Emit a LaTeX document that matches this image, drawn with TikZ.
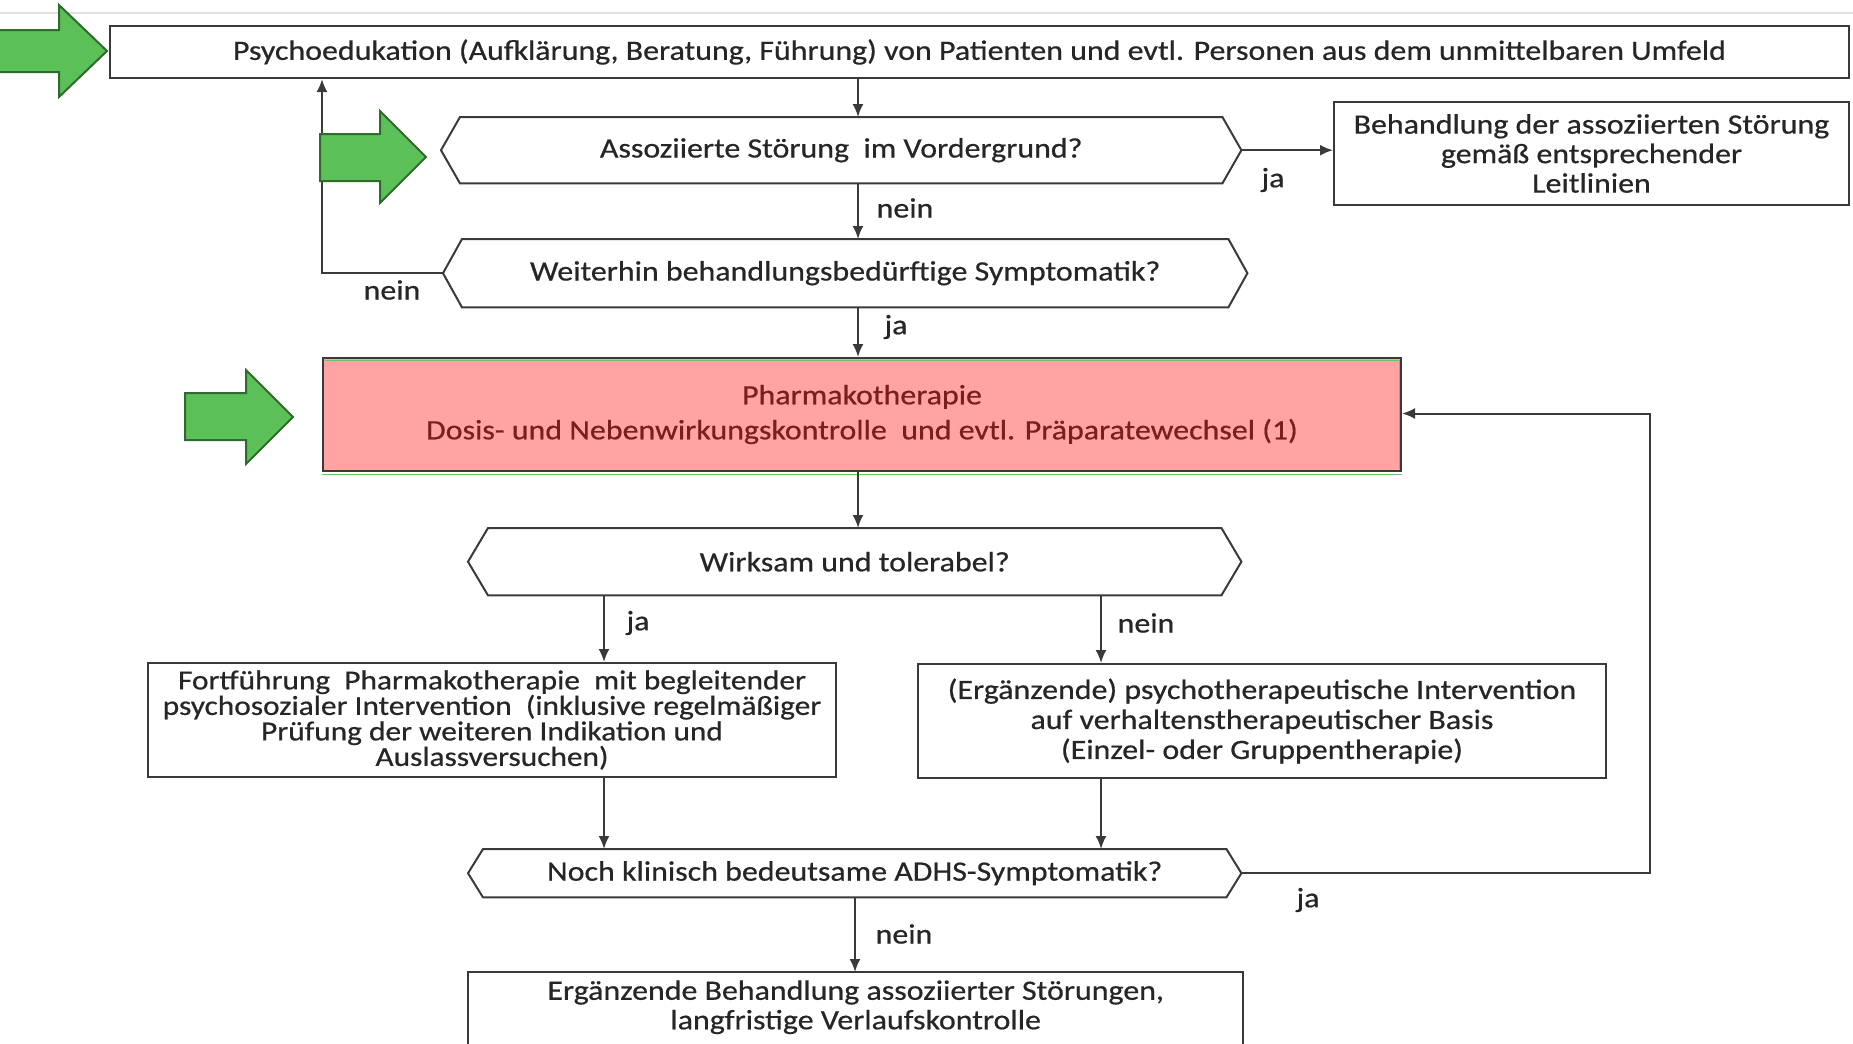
\documentclass[tikz,border=0pt]{standalone}
\usepackage{fontspec}
\setmainfont[FakeStretch=1.14,FakeBold=0.6]{Carlito}
\usetikzlibrary{arrows.meta,calc}
\definecolor{ln}{HTML}{3A3A3A}
\definecolor{txt}{HTML}{262626}
\definecolor{pinkfill}{HTML}{FFA3A3}
\definecolor{dred}{HTML}{7D1E1E}
\definecolor{gfill}{HTML}{5CC059}
\definecolor{gline}{HTML}{2F6B2C}
\definecolor{faint}{HTML}{E2E2E2}
\definecolor{gthin}{HTML}{6CC26A}
\newcommand{\hexpath}[2]{\draw[ln, line width=2pt, line join=miter] ([xshift=#2]#1.north west) -- ([xshift=-#2]#1.north east) -- (#1.east) -- ([xshift=-#2]#1.south east) -- ([xshift=#2]#1.south west) -- (#1.west) -- cycle;}
\begin{document}
\begin{tikzpicture}[x=1pt,y=-1pt,
  font=\fontsize{28}{30}\selectfont,
  box/.style={draw=ln, line width=2pt, anchor=north west, inner sep=0pt, align=center, text=txt},
  hexnode/.style={anchor=north west, inner sep=0pt, align=center, text=txt},
  lbl/.style={inner sep=0pt, text=txt},
  arr/.style={ln, line width=2pt, -{Latex[length=13pt,width=11pt]}},
  garrow/.style={fill=gfill, draw=gline, line width=2pt, line join=miter}]
\useasboundingbox (0,0) rectangle (1853,1044);
\clip (0,0) rectangle (1853,1044);
% faint top rule
\draw[faint, line width=2pt] (0,13) -- (1853,13);

% boxes
\node[box, minimum width=1739pt, minimum height=52pt] (top) at (109,25)
  {Psychoedukation (Aufklärung, Beratung, Führung) von Patienten und evtl. Personen aus dem unmittelbaren Umfeld};
\node[hexnode, minimum width=800pt, minimum height=66pt] (hexA) at (441,117)
  {\raisebox{-3pt}{Assoziierte Störung\ \ im Vordergrund?}};
\hexpath{hexA}{19pt}
\node[box, minimum width=515pt, minimum height=103pt, font=\fontsize{28}{29.5}\selectfont] (beh) at (1333,101)
  {Behandlung der assoziierten Störung\\gemäß entsprechender\\Leitlinien};
\node[hexnode, minimum width=804pt, minimum height=68pt] (hexW) at (443,239)
  {Weiterhin behandlungsbedürftige Symptomatik?};
\hexpath{hexW}{19pt}
\node[box, fill=pinkfill, text=dred, minimum width=1078pt, minimum height=113pt, font=\fontsize{28}{35}\selectfont] (pharma) at (322,357)
  {Pharmakotherapie\\Dosis- und Nebenwirkungskontrolle\ \ und evtl. Präparatewechsel (1)};
\draw[gthin, line width=1pt] ([shift={(3pt,-3pt)}]pharma.north west) -- ([shift={(-3pt,-3pt)}]pharma.north east) -- ([shift={(-3pt,3pt)}]pharma.south east);
\draw[gthin, line width=1pt] ([yshift=-2pt]pharma.south west) -- ([yshift=-2pt]pharma.south east);
\node[hexnode, minimum width=773pt, minimum height=67pt] (hexT) at (468,528)
  {Wirksam und tolerabel?};
\hexpath{hexT}{20pt}
\node[box, minimum width=688pt, minimum height=114pt, font=\fontsize{27.5}{25.5}\selectfont] (box4) at (147,662)
  {Fortführung\ \ Pharmakotherapie\ \ mit begleitender\\psychosozialer Intervention\ \ (inklusive regelmäßiger\\Prüfung der weiteren Indikation und\\Auslassversuchen)};
\node[box, minimum width=688pt, minimum height=114pt, font=\fontsize{28}{30}\selectfont] (box5) at (917,663)
  {(Ergänzende) psychotherapeutische Intervention\\auf verhaltenstherapeutischer Basis\\(Einzel- oder Gruppentherapie)};
\node[hexnode, minimum width=773pt, minimum height=48pt] (hexN) at (468,849)
  {Noch klinisch bedeutsame ADHS-Symptomatik?};
\hexpath{hexN}{15pt}
\node[hexnode, minimum width=775pt, minimum height=70pt, font=\fontsize{28}{29.5}\selectfont] (fin) at (468,972)
  {Ergänzende Behandlung assoziierter Störungen,\\langfristige Verlaufskontrolle};
\draw[ln, line width=2pt] ([yshift=-20pt]fin.south west) -- (fin.north west) -- (fin.north east) -- ([yshift=-20pt]fin.south east);

% helper coordinates
\coordinate (cx) at (858,0);
\coordinate (lx) at (322,0);
\coordinate (jx) at (604,0);
\coordinate (nx) at (1101,0);
\coordinate (fx) at (855,0);
\coordinate (rloop) at (1650,413.5);

% connectors
\draw[arr] (top.south -| cx) -- (hexA.north -| cx);
\draw[arr] (hexA.east) -- (hexA.east -| beh.west);
\draw[arr] (hexA.south -| cx) -- (hexW.north -| cx);
\draw[arr] (hexW.west) -| (top.south -| lx);
\draw[arr] (hexW.south -| cx) -- (pharma.north -| cx);
\draw[arr] (pharma.south -| cx) -- (hexT.north -| cx);
\draw[arr] (hexT.south -| jx) -- (box4.north -| jx);
\draw[arr] (hexT.south -| nx) -- (box5.north -| nx);
\draw[arr] (box4.south -| jx) -- (hexN.north -| jx);
\draw[arr] (box5.south -| nx) -- (hexN.north -| nx);
\draw[arr] (hexN.east) -| (rloop) -- (rloop -| pharma.east);
\draw[arr] (hexN.south -| fx) -- (fin.north -| fx);

% labels
\node[lbl] (l1) at (1273,180) {ja};
\node[lbl] (l2) at (905,208) {nein};
\node[lbl] (l3) at (392,290) {nein};
\node[lbl] (l4) at (896,327) {ja};
\node[lbl] (l5) at (638,623) {ja};
\node[lbl] (l6) at (1146,623) {nein};
\node[lbl] (l7) at (1308,900) {ja};
\node[lbl] (l8) at (904,934) {nein};

% green arrows
\draw[garrow] (-5,30) -- (59,30) -- (59,5) -- (107,51) -- (59,97) -- (59,72) -- (-5,72) -- cycle;
\draw[garrow] (320,134) -- (380,134) -- (380,111) -- (426,157) -- (380,203) -- (380,181) -- (320,181) -- cycle;
\draw[garrow] (185,393) -- (246,393) -- (246,370) -- (293,417) -- (246,464) -- (246,440) -- (185,440) -- cycle;
\end{tikzpicture}
\end{document}
